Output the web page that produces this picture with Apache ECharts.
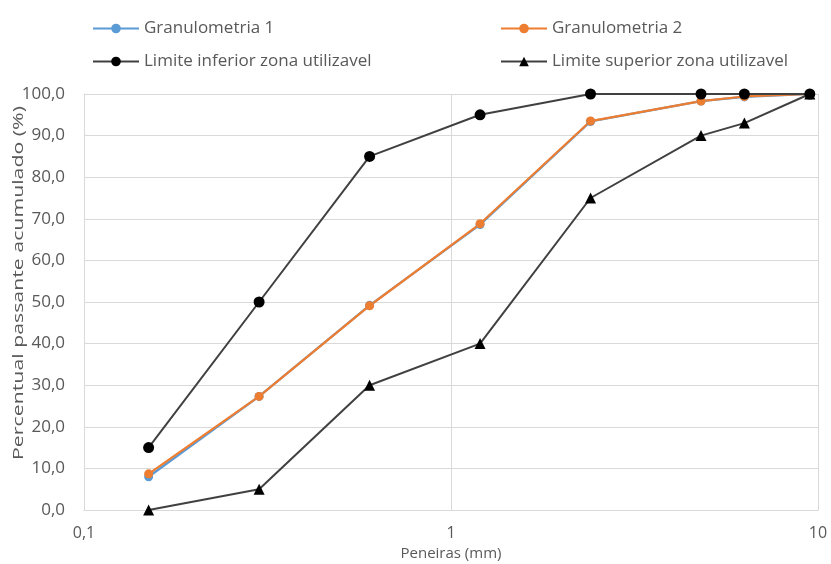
<!DOCTYPE html>
<html>
<head>
<meta charset="utf-8">
<script src="https://cdn.jsdelivr.net/npm/echarts@6/dist/echarts.min.js"></script>
<style>
html,body{margin:0;padding:0;background:#fff;}
#chart{width:831px;height:564px;}
</style>
</head>
<body>
<div id="chart"></div>
<script>
// Sieve openings (mm)
const peneiras = [0.15, 0.3, 0.6, 1.2, 2.4, 4.8, 6.3, 9.5];
// Cumulative passing (%)
const granulometria1 = [8.0, 27.3, 49.2, 68.6, 93.4, 98.3, 99.3, 100];
const granulometria2 = [8.7, 27.3, 49.1, 68.8, 93.5, 98.3, 99.4, 100];
const limiteInferior = [15, 50, 85, 95, 100, 100, 100, 100];
const limiteSuperior = [0, 5, 30, 40, 75, 90, 93, 100];
const yTicks = [0, 10, 20, 30, 40, 50, 60, 70, 80, 90, 100];
const yTitle = 'Percentual passante acumulado (%)';
const xTitle = 'Peneiras (mm)';

const FONT = '"Open Sans", sans-serif';
const TXT = '#595959';

function pairs(vals) { return peneiras.map((x, i) => [x, vals[i]]); }
const fmt = v => String(v).replace('.', ',');

const chart = echarts.init(document.getElementById('chart'));

function legendAt(name, left, top) {
  return {
    data: [name], left: left, top: top, padding: 0,
    itemWidth: 46, itemHeight: 12, itemGap: 4,
    textStyle: { color: TXT, fontFamily: FONT, fontSize: 17 }
  };
}

chart.setOption({
  animation: false,
  backgroundColor: '#fff',
  legend: [
    legendAt('Granulometria 1', 92, 20),
    legendAt('Granulometria 2', 500, 20),
    legendAt('Limite inferior zona utilizavel', 92, 53),
    legendAt('Limite superior zona utilizavel', 500, 53)
  ],
  grid: { left: 84, right: 13, top: 94, bottom: 54, containLabel: false, outerBoundsMode: 'none' },
  // vertical axis title, stretched along its length
  graphic: [{
    type: 'text', x: 19, y: 283, rotation: Math.PI / 2, scaleX: 1.42, scaleY: 0.95,
    style: { text: yTitle, fill: TXT, font: '15px "Open Sans", sans-serif', align: 'center', verticalAlign: 'middle' },
    silent: true
  }],
  xAxis: {
    type: 'log', logBase: 10, min: 0.1, max: 10,
    name: xTitle, nameLocation: 'middle', nameGap: 34,
    nameTextStyle: { color: TXT, fontFamily: FONT, fontSize: 15 },
    axisLine: { show: true, lineStyle: { color: '#d9d9d9' } },
    axisTick: { show: false },
    axisLabel: { color: TXT, fontFamily: FONT, fontSize: 16, margin: 15, formatter: v => fmt(v) },
    splitLine: { show: true, lineStyle: { color: '#d9d9d9', width: 1 } },
    minorTick: { show: false }
  },
  yAxis: {
    type: 'value', min: yTicks[0], max: yTicks[yTicks.length - 1], interval: 10,
    axisLine: { show: true, lineStyle: { color: '#d9d9d9' } },
    axisTick: { show: false },
    axisLabel: { color: TXT, fontFamily: FONT, fontSize: 17, margin: 19, formatter: v => v.toFixed(1).replace('.', ',') },
    splitLine: { show: true, lineStyle: { color: '#d9d9d9', width: 1 } }
  },
  series: [
    {
      name: 'Granulometria 1', type: 'line', data: pairs(granulometria1),
      symbol: 'circle', symbolSize: 9,
      lineStyle: { color: '#5b9bd5', width: 2.25 }, itemStyle: { color: '#5b9bd5' }
    },
    {
      name: 'Granulometria 2', type: 'line', data: pairs(granulometria2),
      symbol: 'circle', symbolSize: 9,
      lineStyle: { color: '#ed7d31', width: 2.25 }, itemStyle: { color: '#ed7d31' }
    },
    {
      name: 'Limite inferior zona utilizavel', type: 'line', data: pairs(limiteInferior),
      symbol: 'circle', symbolSize: 11,
      lineStyle: { color: '#404040', width: 2 }, itemStyle: { color: '#000' }
    },
    {
      name: 'Limite superior zona utilizavel', type: 'line', data: pairs(limiteSuperior),
      symbol: 'triangle', symbolSize: 11,
      lineStyle: { color: '#404040', width: 2 }, itemStyle: { color: '#000' }
    }
  ]
});
</script>
</body>
</html>
